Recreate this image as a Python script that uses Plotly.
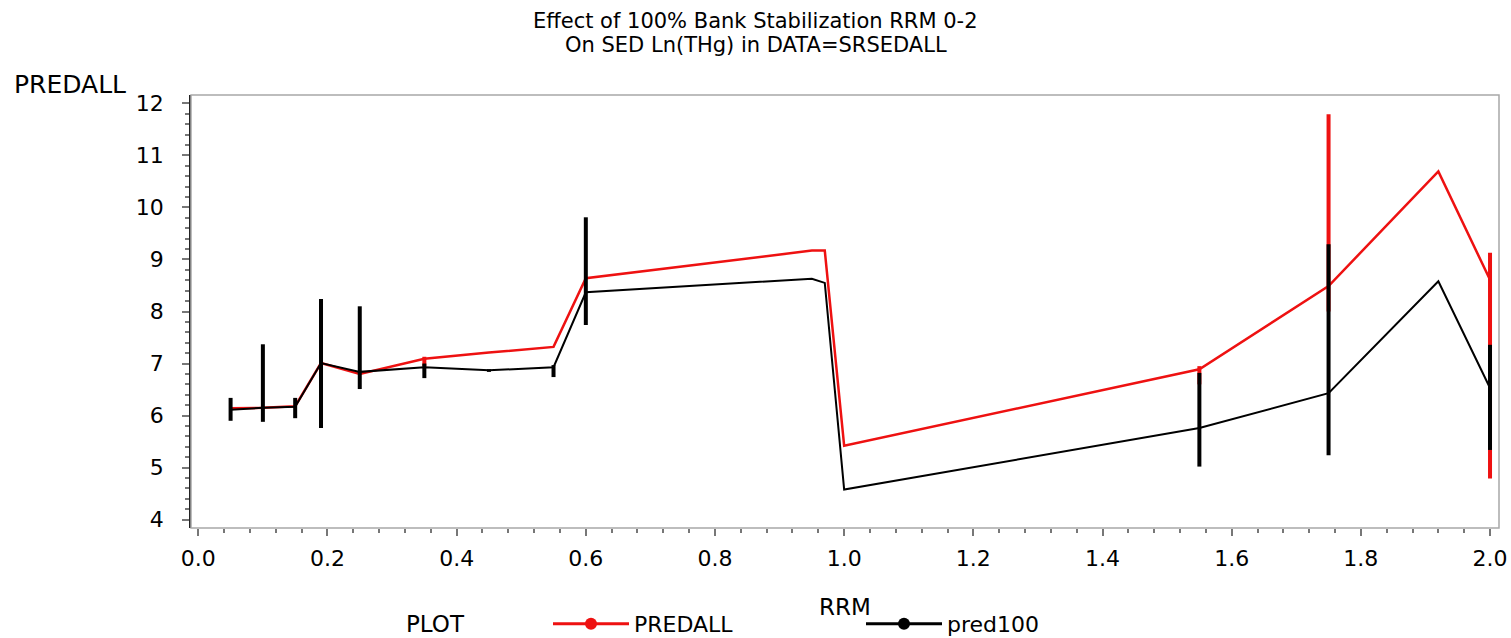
import plotly.graph_objects as go

# ---- data ----
rrm = [0.05, 0.10, 0.15, 0.19, 0.25, 0.35, 0.45, 0.55, 0.60, 0.95, 0.97, 1.00, 1.55, 1.75, 1.92, 2.00]
predall = [6.14, 6.15, 6.18, 7.01, 6.80, 7.09, 7.21, 7.32, 8.64, 9.17, 9.17, 5.42, 6.89, 8.49, 10.69, 8.61]
pred100 = [6.11, 6.15, 6.17, 7.01, 6.84, 6.93, 6.87, 6.93, 8.37, 8.63, 8.55, 4.58, 5.76, 6.43, 8.58, 6.53]

# interval bounds (None where no interval is drawn)
predall_hi = [None, None, None, None, None, 7.13, None, None, None, None, None, None, 6.95, 11.79, None, 9.13]
predall_lo = [None, None, None, None, None, 6.95, None, None, None, None, None, None, 6.60, 8.00, None, 4.79]
pred100_hi = [6.34, 7.37, 6.34, 8.24, 8.10, 7.00, 6.89, 6.97, 9.81, None, None, None, 6.82, 9.29, None, 7.36]
pred100_lo = [5.90, 5.88, 5.95, 5.76, 6.51, 6.72, 6.84, 6.74, 7.74, None, None, None, 5.02, 5.24, None, 5.34]

x_ticks = [0.0, 0.2, 0.4, 0.6, 0.8, 1.0, 1.2, 1.4, 1.6, 1.8, 2.0]
x_ticklabels = ["0.0", "0.2", "0.4", "0.6", "0.8", "1.0", "1.2", "1.4", "1.6", "1.8", "2.0"]
y_ticks = [4, 5, 6, 7, 8, 9, 10, 11, 12]

RED = "#ee1111"
BLACK = "#000000"
FONT = "DejaVu Sans"


def err(vals, hi, lo):
    plus = [(h - v) if h is not None else 0 for v, h in zip(vals, hi)]
    minus = [(v - l) if l is not None else 0 for v, l in zip(vals, lo)]
    return plus, minus


rp, rm = err(predall, predall_hi, predall_lo)
bp, bm = err(pred100, pred100_hi, pred100_lo)

fig = go.Figure()
fig.add_trace(go.Scatter(
    x=rrm, y=predall, mode="lines", line=dict(color=RED, width=2.5),
    error_y=dict(type="data", symmetric=False, array=rp, arrayminus=rm,
                 color=RED, thickness=4, width=0),
    showlegend=False, hoverinfo="x+y"))
fig.add_trace(go.Scatter(
    x=rrm, y=pred100, mode="lines", line=dict(color=BLACK, width=2),
    error_y=dict(type="data", symmetric=False, array=bp, arrayminus=bm,
                 color=BLACK, thickness=4, width=0),
    showlegend=False, hoverinfo="x+y"))

# legend entries
fig.add_trace(go.Scatter(x=[None], y=[None], mode="lines+markers", name="PREDALL",
                         line=dict(color=RED, width=3), marker=dict(color=RED, size=12)))
fig.add_trace(go.Scatter(x=[None], y=[None], mode="lines+markers", name="pred100",
                         line=dict(color=BLACK, width=3), marker=dict(color=BLACK, size=12)))

# body margin is removed by the post script, so the figure fills the window
OFF = 0
W, H = 1511 - OFF, 638 - OFF
ML, MR, MT, MB = 191 - OFF, 12, 95 - OFF, 110
pw = W - ML - MR
ph = H - MT - MB


def px_x(p):  # window pixel -> paper x
    return (p - OFF - ML) / pw


def px_y(p):  # window pixel -> paper y
    return (H - MB - (p - OFF)) / ph


TICKFONT = dict(size=22, family=FONT, color="black")

fig.update_layout(
    width=W, height=H,
    margin=dict(l=ML, r=MR, t=MT, b=MB, autoexpand=False),
    paper_bgcolor="white", plot_bgcolor="white",
    font=dict(family=FONT, color="black", size=22),
    xaxis=dict(range=[-0.0113, 2.0139], tickvals=x_ticks, ticktext=x_ticklabels,
               showgrid=False, zeroline=False, showline=False, automargin=False,
               ticks="outside", ticklen=7, tickcolor="#777", tickwidth=1.5,
               minor=dict(dtick=0.04, tick0=0, ticks="outside", ticklen=4, tickcolor="#777", tickwidth=1.5),
               tickfont=TICKFONT, ticklabelstandoff=4,
               title=dict(text="RRM", font=dict(size=23, family=FONT), standoff=28)),
    yaxis=dict(range=[3.84, 12.16], tickvals=y_ticks, automargin=False,
               showgrid=False, zeroline=False, showline=True, linecolor="#222", linewidth=1.5,
               ticks="outside", ticklen=7, tickcolor="#777", tickwidth=1.5,
               minor=dict(dtick=0.2, tick0=0, ticks="outside", ticklen=4, tickcolor="#777", tickwidth=1.5),
               tickfont=TICKFONT, ticklabelstandoff=14),
    legend=dict(orientation="h", x=px_x(548), y=px_y(624), xanchor="left", yanchor="middle",
                font=dict(size=22, family=FONT), entrywidth=222, entrywidthmode="pixels",
                itemwidth=76, bgcolor="rgba(0,0,0,0)", borderwidth=0),
    shapes=[dict(type="rect", xref="paper", yref="paper", x0=0, x1=1, y0=0, y1=1,
                 line=dict(color="#a8a8a8", width=1.5), layer="above")],
    annotations=[
        dict(text="Effect of 100% Bank Stabilization RRM 0-2", xref="paper", yref="paper",
             x=px_x(755.5), y=px_y(21), xanchor="center", yanchor="middle", showarrow=False,
             font=dict(size=21, family=FONT), borderpad=0),
        dict(text="On SED Ln(THg) in DATA=SRSEDALL", xref="paper", yref="paper",
             x=px_x(755.5), y=px_y(45), xanchor="center", yanchor="middle", showarrow=False,
             font=dict(size=21, family=FONT), borderpad=0),
        dict(text="PREDALL", xref="paper", yref="paper",
             x=px_x(12), y=px_y(84), xanchor="left", yanchor="middle", showarrow=False,
             font=dict(size=25, family=FONT)),
        dict(text="PLOT", xref="paper", yref="paper",
             x=px_x(404), y=px_y(624), xanchor="left", yanchor="middle", showarrow=False,
             font=dict(size=23, family=FONT)),
    ],
)

fig.write_html(
    "out.html",
    config={"displayModeBar": False},
    post_script="document.body.style.margin='0';document.body.style.overflow='hidden';",
)
